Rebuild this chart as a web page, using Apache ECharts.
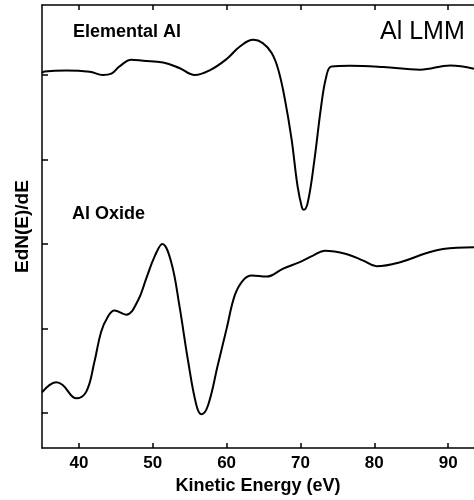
<!DOCTYPE html>
<html>
<head>
<meta charset="utf-8">
<script src="https://cdn.jsdelivr.net/npm/echarts@6/dist/echarts.min.js"></script>
<style>html,body{margin:0;padding:0;background:#fff}#c{width:474px;height:500px}</style>
</head>
<body>
<div id="c"></div>
<script>
var xTicks = [40, 50, 60, 70, 80, 90];
var yTicks = [0, 1, 2, 3, 4];
var elementalE = [35.0, 35.35, 38.3, 41.45, 43.25, 44.4, 45.5, 47.1, 48.7, 51.4, 53.6, 55.7, 57.7, 60.0, 61.8, 63.6, 64.9, 66.1, 67.0, 67.9, 68.8, 69.6, 70.2, 70.45, 71.0, 71.9, 72.8, 73.5, 74.2, 76.7, 81.2, 86.2, 90.3, 93.5];
var elementalV = [4.02, 4.039, 4.051, 4.035, 3.996, 4.012, 4.098, 4.176, 4.165, 4.145, 4.079, 3.996, 4.051, 4.185, 4.333, 4.412, 4.373, 4.255, 4.059, 3.706, 3.235, 2.686, 2.432, 2.404, 2.494, 3.0, 3.627, 3.98, 4.098, 4.106, 4.091, 4.059, 4.109, 4.071];
var oxideE = [35.0, 36.0, 36.9, 37.8, 39.65, 41.0, 42.1, 43.0, 43.9, 44.8, 46.4, 48.0, 49.1, 50.3, 51.3, 52.5, 53.6, 54.8, 55.9, 56.6, 57.5, 58.8, 60.0, 61.1, 62.2, 63.4, 65.4, 67.6, 69.9, 71.7, 73.3, 76.2, 78.5, 80.3, 83.5, 87.1, 89.3, 93.5];
var oxideV = [0.247, 0.333, 0.365, 0.333, 0.176, 0.255, 0.608, 0.961, 1.138, 1.215, 1.165, 1.333, 1.588, 1.862, 2.0, 1.785, 1.274, 0.608, 0.098, -0.012, 0.098, 0.568, 1.0, 1.392, 1.568, 1.627, 1.615, 1.706, 1.785, 1.862, 1.921, 1.882, 1.804, 1.738, 1.785, 1.894, 1.941, 1.961];

function pairs(xs, ys) { return xs.map(function (x, i) { return [x, ys[i]]; }); }

var chart = echarts.init(document.getElementById('c'));
var font = 'Liberation Sans, Arial, sans-serif';
chart.setOption({
  animation: false,
  grid: { left: 42, top: 5, right: 0, bottom: 50 },
  xAxis: [{
    type: 'value', min: 35, max: 93.5, position: 'bottom',
    name: 'Kinetic Energy (eV)', nameLocation: 'middle', nameGap: 28,
    nameTextStyle: { fontFamily: font, fontSize: 18, fontWeight: 'bold', color: '#000' },
    splitLine: { show: false },
    axisLine: { onZero: false, lineStyle: { color: '#000', width: 1.5 } },
    axisTick: { inside: true, length: 5, customValues: xTicks, lineStyle: { color: '#000', width: 1.5 } },
    axisLabel: { customValues: xTicks, fontFamily: font, fontSize: 17, fontWeight: 'bold', color: '#000', margin: 7 }
  }, {
    type: 'value', min: 35, max: 93.5, position: 'top',
    splitLine: { show: false },
    axisLine: { onZero: false, lineStyle: { color: '#000', width: 1.5 } },
    axisTick: { inside: true, length: 5, customValues: xTicks, lineStyle: { color: '#000', width: 1.5 } },
    axisLabel: { show: false }
  }],
  yAxis: {
    type: 'value', min: -35 / 85, max: 410 / 85,
    name: 'EdN(E)/dE', nameLocation: 'middle', nameGap: 10,
    nameTextStyle: { fontFamily: font, fontSize: 19, fontWeight: 'bold', color: '#000' },
    splitLine: { show: false },
    axisLine: { show: true, onZero: false, lineStyle: { color: '#000', width: 1.5 } },
    axisTick: { show: true, inside: true, length: 6, customValues: yTicks, lineStyle: { color: '#000', width: 1.5 } },
    axisLabel: { show: false }
  },
  graphic: [
    { type: 'text', left: 73, top: 23, style: { text: 'Elemental Al', font: 'bold 18px ' + font, fill: '#000' } },
    { type: 'text', left: 380, top: 20, style: { text: 'Al LMM', font: '25px ' + font, fill: '#000' } },
    { type: 'text', left: 72, top: 205, style: { text: 'Al Oxide', font: 'bold 18px ' + font, fill: '#000' } }
  ],
  series: [{
    type: 'line', data: pairs(elementalE, elementalV), smooth: 0.4, showSymbol: false,
    lineStyle: { color: '#000', width: 2 }
  }, {
    type: 'line', data: pairs(oxideE, oxideV), smooth: 0.4, showSymbol: false,
    lineStyle: { color: '#000', width: 2 }
  }]
});
</script>
</body>
</html>
